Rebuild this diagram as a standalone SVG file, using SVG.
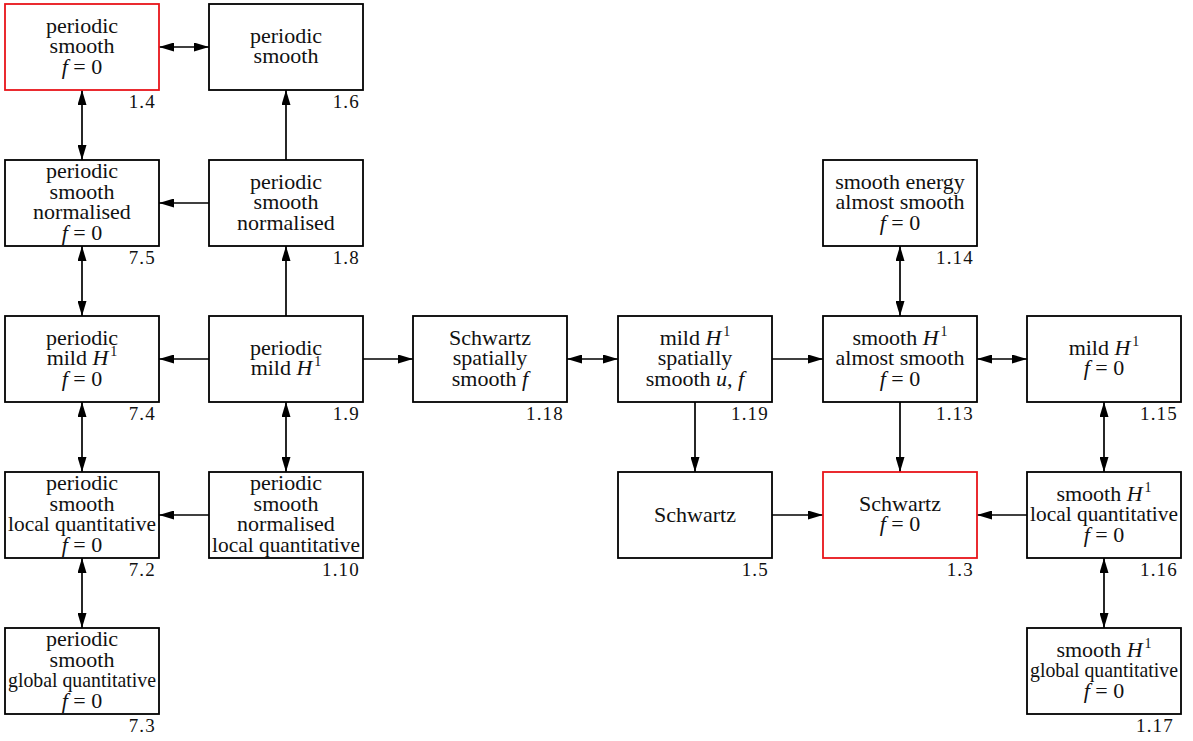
<svg xmlns="http://www.w3.org/2000/svg" width="1193" height="741" viewBox="0 0 1193 741">
<style>
.box{fill:#fff;stroke:#000;stroke-width:1.8}
.red{stroke:#e8141a}
text{font-family:'Liberation Serif','DejaVu Serif',serif;fill:#111}
.t{font-size:22px;text-anchor:middle}
.n{font-size:19px;text-anchor:end;letter-spacing:1.2px}
.i{font-style:italic}
.s{font-size:14px}
.c{fill:none;stroke:#000;stroke-width:1.7}
.a1{marker-end:url(#ah)}
.a2{marker-start:url(#ah);marker-end:url(#ah)}
</style>
<defs>
<marker id="ah" viewBox="0 0 15 9" refX="15" refY="4.5" markerWidth="15" markerHeight="9" markerUnits="userSpaceOnUse" orient="auto-start-reverse">
<path d="M0,0 L15,4.5 L0,9 z" fill="#000"/>
</marker>
</defs>
<rect width="1193" height="741" fill="#fff"/>
<g id="connectors">
<path class="c a2" d="M159,47 H209"/>
<path class="c a2" d="M82,90 V160"/>
<path class="c a1" d="M286,160 V90"/>
<path class="c a1" d="M209,203 H159"/>
<path class="c a2" d="M82,246 V316"/>
<path class="c a1" d="M286,316 V246"/>
<path class="c a1" d="M209,359 H159"/>
<path class="c a1" d="M363,359 H413"/>
<path class="c a2" d="M82,402 V472"/>
<path class="c a2" d="M286,402 V472"/>
<path class="c a1" d="M209,515 H159"/>
<path class="c a2" d="M82,558 V628"/>
<path class="c a2" d="M567,359 H618"/>
<path class="c a1" d="M772,359 H823"/>
<path class="c a1" d="M695,402 V472"/>
<path class="c a1" d="M772,515 H823"/>
<path class="c a1" d="M1027,515 H977"/>
<path class="c a1" d="M900,402 V472"/>
<path class="c a2" d="M900,246 V316"/>
<path class="c a2" d="M977,359 H1027"/>
<path class="c a2" d="M1104,402 V472"/>
<path class="c a2" d="M1104,558 V628"/>
</g>
<g id="n1_4">
<rect class="box red" x="5" y="4" width="154" height="86"/>
<text class="t" x="82" y="32.5">periodic</text>
<text class="t" x="82" y="53">smooth</text>
<text class="t" x="82" y="73.5"><tspan class="i">f</tspan> = 0</text>
<text class="n" x="156" y="108">1.4</text>
</g>
<g id="n1_6">
<rect class="box" x="209" y="4" width="154" height="86"/>
<text class="t" x="286" y="42.75">periodic</text>
<text class="t" x="286" y="63.25">smooth</text>
<text class="n" x="360" y="108">1.6</text>
</g>
<g id="n7_5">
<rect class="box" x="5" y="160" width="154" height="86"/>
<text class="t" x="82" y="178.25">periodic</text>
<text class="t" x="82" y="198.75">smooth</text>
<text class="t" x="82" y="219.25">normalised</text>
<text class="t" x="82" y="239.75"><tspan class="i">f</tspan> = 0</text>
<text class="n" x="156" y="264">7.5</text>
</g>
<g id="n1_8">
<rect class="box" x="209" y="160" width="154" height="86"/>
<text class="t" x="286" y="188.5">periodic</text>
<text class="t" x="286" y="209">smooth</text>
<text class="t" x="286" y="229.5">normalised</text>
<text class="n" x="360" y="264">1.8</text>
</g>
<g id="n7_4">
<rect class="box" x="5" y="316" width="154" height="86"/>
<text class="t" x="82" y="344.5">periodic</text>
<text class="t" x="82" y="365">mild <tspan class="i">H</tspan><tspan class="s" dx="2" dy="-9">1</tspan></text>
<text class="t" x="82" y="385.5"><tspan class="i">f</tspan> = 0</text>
<text class="n" x="156" y="420">7.4</text>
</g>
<g id="n1_9">
<rect class="box" x="209" y="316" width="154" height="86"/>
<text class="t" x="286" y="354.75">periodic</text>
<text class="t" x="286" y="375.25">mild <tspan class="i">H</tspan><tspan class="s" dx="2" dy="-9">1</tspan></text>
<text class="n" x="360" y="420">1.9</text>
</g>
<g id="n7_2">
<rect class="box" x="5" y="472" width="154" height="86"/>
<text class="t" x="82" y="490.25">periodic</text>
<text class="t" x="82" y="510.75">smooth</text>
<text class="t" x="82" y="531.25" textLength="148" lengthAdjust="spacingAndGlyphs">local quantitative</text>
<text class="t" x="82" y="551.75"><tspan class="i">f</tspan> = 0</text>
<text class="n" x="156" y="576">7.2</text>
</g>
<g id="n1_10">
<rect class="box" x="209" y="472" width="154" height="86"/>
<text class="t" x="286" y="490.25">periodic</text>
<text class="t" x="286" y="510.75">smooth</text>
<text class="t" x="286" y="531.25">normalised</text>
<text class="t" x="286" y="551.75" textLength="148" lengthAdjust="spacingAndGlyphs">local quantitative</text>
<text class="n" x="360" y="576">1.10</text>
</g>
<g id="n7_3">
<rect class="box" x="5" y="628" width="154" height="86"/>
<text class="t" x="82" y="646.25">periodic</text>
<text class="t" x="82" y="666.75">smooth</text>
<text class="t" x="82" y="687.25" textLength="148" lengthAdjust="spacingAndGlyphs">global quantitative</text>
<text class="t" x="82" y="707.75"><tspan class="i">f</tspan> = 0</text>
<text class="n" x="156" y="732">7.3</text>
</g>
<g id="n1_18">
<rect class="box" x="413" y="316" width="154" height="86"/>
<text class="t" x="490" y="344.5">Schwartz</text>
<text class="t" x="490" y="365">spatially</text>
<text class="t" x="490" y="385.5">smooth <tspan class="i">f</tspan></text>
<text class="n" x="564" y="420">1.18</text>
</g>
<g id="n1_19">
<rect class="box" x="618" y="316" width="154" height="86"/>
<text class="t" x="695" y="344.5">mild <tspan class="i">H</tspan><tspan class="s" dx="2" dy="-9">1</tspan></text>
<text class="t" x="695" y="365">spatially</text>
<text class="t" x="695" y="385.5">smooth <tspan class="i">u</tspan>, <tspan class="i">f</tspan></text>
<text class="n" x="769" y="420">1.19</text>
</g>
<g id="n1_5">
<rect class="box" x="618" y="472" width="154" height="86"/>
<text class="t" x="695" y="521.5">Schwartz</text>
<text class="n" x="769" y="576">1.5</text>
</g>
<g id="n1_14">
<rect class="box" x="823" y="160" width="154" height="86"/>
<text class="t" x="900" y="188.5">smooth energy</text>
<text class="t" x="900" y="209">almost smooth</text>
<text class="t" x="900" y="229.5"><tspan class="i">f</tspan> = 0</text>
<text class="n" x="974" y="264">1.14</text>
</g>
<g id="n1_13">
<rect class="box" x="823" y="316" width="154" height="86"/>
<text class="t" x="900" y="344.5">smooth <tspan class="i">H</tspan><tspan class="s" dx="2" dy="-9">1</tspan></text>
<text class="t" x="900" y="365">almost smooth</text>
<text class="t" x="900" y="385.5"><tspan class="i">f</tspan> = 0</text>
<text class="n" x="974" y="420">1.13</text>
</g>
<g id="n1_15">
<rect class="box" x="1027" y="316" width="154" height="86"/>
<text class="t" x="1104" y="354.75">mild <tspan class="i">H</tspan><tspan class="s" dx="2" dy="-9">1</tspan></text>
<text class="t" x="1104" y="375.25"><tspan class="i">f</tspan> = 0</text>
<text class="n" x="1178" y="420">1.15</text>
</g>
<g id="n1_3">
<rect class="box red" x="823" y="472" width="154" height="86"/>
<text class="t" x="900" y="510.75">Schwartz</text>
<text class="t" x="900" y="531.25"><tspan class="i">f</tspan> = 0</text>
<text class="n" x="974" y="576">1.3</text>
</g>
<g id="n1_16">
<rect class="box" x="1027" y="472" width="154" height="86"/>
<text class="t" x="1104" y="500.5">smooth <tspan class="i">H</tspan><tspan class="s" dx="2" dy="-9">1</tspan></text>
<text class="t" x="1104" y="521" textLength="148" lengthAdjust="spacingAndGlyphs">local quantitative</text>
<text class="t" x="1104" y="541.5"><tspan class="i">f</tspan> = 0</text>
<text class="n" x="1178" y="576">1.16</text>
</g>
<g id="n1_17">
<rect class="box" x="1027" y="628" width="154" height="86"/>
<text class="t" x="1104" y="656.5">smooth <tspan class="i">H</tspan><tspan class="s" dx="2" dy="-9">1</tspan></text>
<text class="t" x="1104" y="677" textLength="148" lengthAdjust="spacingAndGlyphs">global quantitative</text>
<text class="t" x="1104" y="697.5"><tspan class="i">f</tspan> = 0</text>
<text class="n" x="1174" y="732">1.17</text>
</g>
</svg>
